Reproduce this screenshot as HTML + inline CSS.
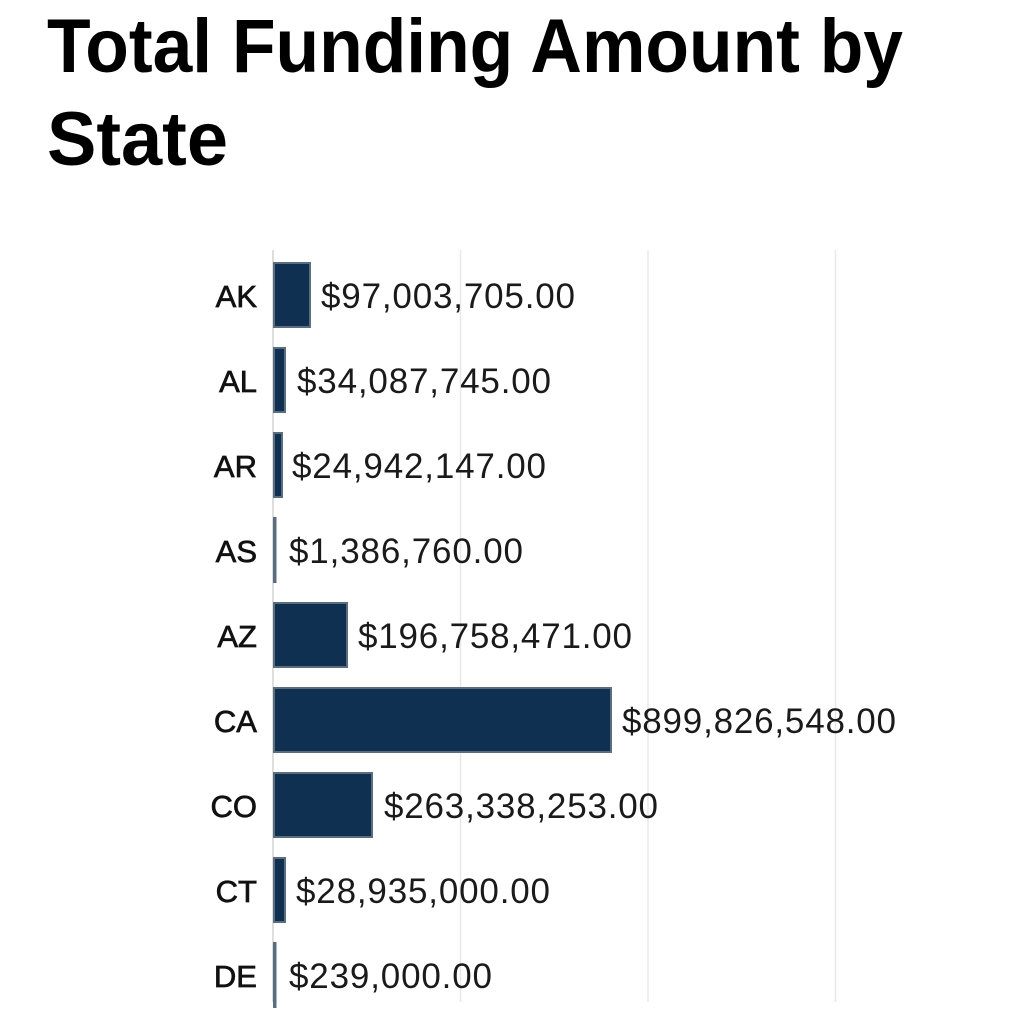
<!DOCTYPE html>
<html><head><meta charset="utf-8"><style>
html,body{margin:0;padding:0;background:#fff;width:1024px;height:1021px;overflow:hidden}
</style></head><body>
<svg width="1024" height="1021" xmlns="http://www.w3.org/2000/svg" font-family="Liberation Sans, sans-serif">
<text x="47" y="72" font-size="76" font-weight="bold" textLength="856" lengthAdjust="spacingAndGlyphs">Total Funding Amount by</text>
<text x="47" y="165" font-size="76" font-weight="bold" textLength="181" lengthAdjust="spacingAndGlyphs">State</text>
<g stroke="#e8e8e8" stroke-width="1.5">
<line x1="460.5" y1="250" x2="460.5" y2="1002"/>
<line x1="648" y1="250" x2="648" y2="1002"/>
<line x1="835.5" y1="250" x2="835.5" y2="1002"/>
</g>
<line x1="273" y1="250" x2="273" y2="1002" stroke="#d4d4d4" stroke-width="1.5"/>
<g fill="#0f3050" stroke="#5b6e80" stroke-width="2">
<rect x="274" y="263" width="36" height="64"/>
<rect x="274" y="348" width="11" height="64"/>
<rect x="274" y="433" width="8" height="64"/>
<rect x="274" y="518" width="1.5" height="64"/>
<rect x="274" y="603" width="73" height="64"/>
<rect x="274" y="688" width="337" height="64"/>
<rect x="274" y="773" width="98" height="64"/>
<rect x="274" y="858" width="11" height="64"/>
<rect x="274" y="943" width="1.5" height="64"/>
</g>
<g font-size="31" text-anchor="end" fill="#111" stroke="#111" stroke-width="0.7">
<text x="257" y="307">AK</text>
<text x="257" y="392">AL</text>
<text x="257" y="477">AR</text>
<text x="257" y="562">AS</text>
<text x="257" y="647">AZ</text>
<text x="257" y="732">CA</text>
<text x="257" y="817">CO</text>
<text x="257" y="902">CT</text>
<text x="257" y="987">DE</text>
</g>
<g font-size="35" fill="#1a1a1a" lengthAdjust="spacingAndGlyphs">
<text x="321" y="308" textLength="254">$97,003,705.00</text>
<text x="297" y="393" textLength="254">$34,087,745.00</text>
<text x="292" y="478" textLength="254">$24,942,147.00</text>
<text x="289" y="563" textLength="234">$1,386,760.00</text>
<text x="358" y="648" textLength="274">$196,758,471.00</text>
<text x="622" y="733" textLength="274">$899,826,548.00</text>
<text x="384" y="818" textLength="274">$263,338,253.00</text>
<text x="296" y="903" textLength="254">$28,935,000.00</text>
<text x="289" y="988" textLength="203">$239,000.00</text>
</g>
</svg>
</body></html>
